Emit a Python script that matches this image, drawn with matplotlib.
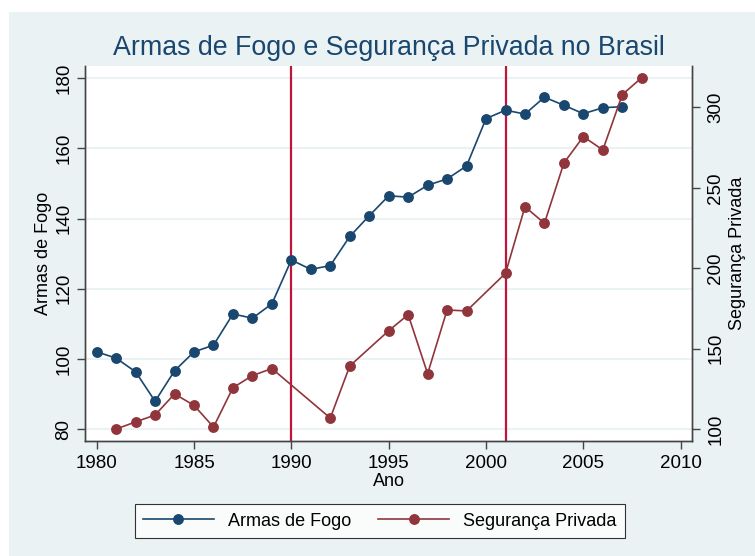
import matplotlib
matplotlib.use("Agg")
import matplotlib.pyplot as plt
from matplotlib.patches import Rectangle

plt.rcParams['font.family'] = ['Liberation Sans', 'DejaVu Sans']

# Armas de Fogo (left axis)
anos_armas = [1980, 1981, 1982, 1983, 1984, 1985, 1986, 1987, 1988, 1989,
              1990, 1991, 1992, 1993, 1994, 1995, 1996, 1997, 1998, 1999,
              2000, 2001, 2002, 2003, 2004, 2005, 2006, 2007]
armas = [102.0, 100.2, 96.3, 87.9, 96.6, 102.0, 103.9, 112.8, 111.6, 115.7,
         128.2, 125.5, 126.6, 134.9, 140.8, 146.5, 146.1, 149.5, 151.3, 155.0,
         168.5, 170.9, 169.8, 174.6, 172.3, 169.9, 171.6, 171.9]

# Seguranca Privada (right axis)
anos_seg = [1981, 1982, 1983, 1984, 1985, 1986, 1987, 1988, 1989,
            1992, 1993, 1995, 1996, 1997, 1998, 1999,
            2001, 2002, 2003, 2004, 2005, 2006, 2007, 2008]
seguranca = [100.0, 104.4, 108.7, 121.8, 114.7, 101.2, 125.7, 133.2, 137.6,
             106.8, 139.2, 161.1, 171.1, 134.4, 174.0, 173.4,
             196.8, 238.2, 227.9, 265.4, 281.8, 273.5, 307.9, 318.5]

marcos = [1990, 2001]

navy = '#1a476f'
maroon = '#90353b'
bg = '#eaf2f3'

W, H = 755, 556
fig = plt.figure(figsize=(W / 100, H / 100), dpi=100)
fig.patch.set_facecolor('white')
fig.patches.append(Rectangle((9 / W, 0), 1, 1 - 12 / H, transform=fig.transFigure,
                             facecolor=bg, edgecolor='none', zorder=-10))

ax = fig.add_axes([85 / W, 1 - 441 / H, (692 - 85) / W, (441 - 66) / H])
ax.set_facecolor('white')
ax2 = ax.twinx()

for m in marcos:
    ax.axvline(m, color='#c0143c', lw=1.6, zorder=1)

ax.plot(anos_armas, armas, color=navy, marker='o', ms=6.8, lw=1.2,
        label='Armas de Fogo', zorder=3)
ax2.plot(anos_seg, seguranca, color=maroon, marker='o', ms=6.8, lw=1.2,
         label='Segurança Privada', zorder=3)

ax.set_xlim(1979.4, 2010.58)
ax.set_ylim(76.58, 183.5)
ax2.set_ylim(92.54, 325.7)
ax.set_xticks([1980, 1985, 1990, 1995, 2000, 2005, 2010])
ax.set_yticks([80, 100, 120, 140, 160, 180])
ax2.set_yticks([100, 150, 200, 250, 300])

ax.yaxis.grid(True, color=bg, lw=1.5)
ax.set_axisbelow(True)

for a in (ax, ax2):
    a.spines['top'].set_visible(False)
    for s in a.spines.values():
        s.set_color('#444444')
        s.set_linewidth(1.0)
    a.tick_params(length=6, width=1.0, color='#444444', labelsize=13.5, labelcolor='black')
ax.tick_params(axis='x', pad=4)
ax.tick_params(axis='y', pad=3)
ax2.tick_params(axis='y', pad=5)
plt.setp(ax.get_yticklabels(), rotation=90, va='center')
plt.setp(ax2.get_yticklabels(), rotation=90, va='center')

ax.set_ylabel('Armas de Fogo', fontsize=13)
ax.set_xlabel('Ano', fontsize=13)
ax2.set_ylabel('Segurança Privada', fontsize=13, rotation=90)
ax.yaxis.set_label_coords(-0.054, 0.5)
ax.xaxis.set_label_coords(0.5, -0.086)
ax2.yaxis.set_label_coords(1.061, 0.5)

fig.text(389 / W, 1 - 48 / H, 'Armas de Fogo e Segurança Privada no Brasil',
         ha='center', va='center', fontsize=19.3, color=navy)

h1, l1 = ax.get_legend_handles_labels()
h2, l2 = ax2.get_legend_handles_labels()
leg = fig.legend(h1 + h2, l1 + l2, loc='center', ncol=2,
                 bbox_to_anchor=(380 / W, 1 - 521 / H), fontsize=13,
                 frameon=True, fancybox=False, edgecolor='black',
                 handlelength=3.9, columnspacing=1.5, borderpad=0.45)
leg.get_frame().set_linewidth(0.8)

fig.savefig('out.png', dpi=100)
